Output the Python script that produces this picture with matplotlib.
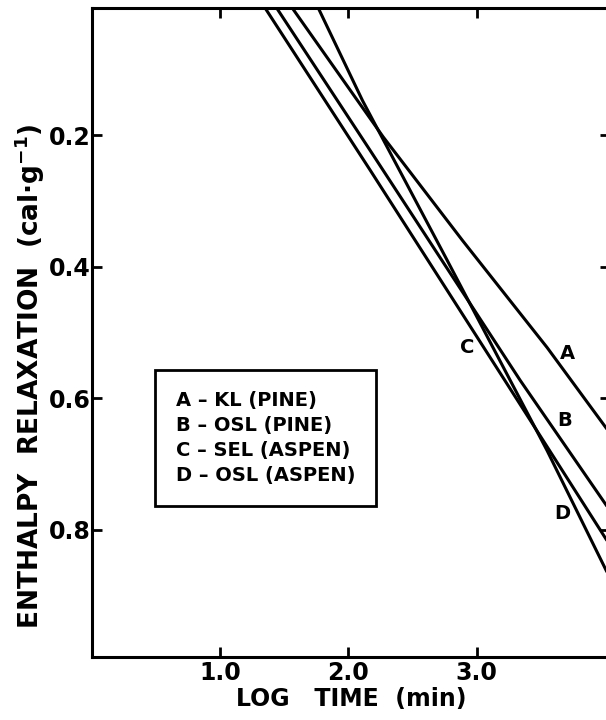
import numpy as np
import matplotlib.pyplot as plt
from matplotlib.lines import Line2D

plt.rcParams['font.family'] = ['DejaVu Sans']
plt.rcParams['font.weight'] = 'bold'

# curves: log time (min) vs enthalpy relaxation (cal/g)
a_x = [1.54, 2.27, 2.89, 3.55, 4.05]
a_y = [0.000, 0.202, 0.360, 0.523, 0.656]
b_x = [1.42, 2.17, 3.34, 4.05]
b_y = [0.000, 0.223, 0.573, 0.774]
c_x = [1.33, 2.17, 2.82, 3.22, 4.05]
c_y = [0.000, 0.253, 0.451, 0.573, 0.827]
d_x = [1.75, 2.11, 2.77, 3.55, 4.05]
d_y = [0.000, 0.147, 0.390, 0.680, 0.878]

curve_names = ['A', 'B', 'C', 'D']
name_x = [3.71, 3.69, 2.93, 3.67]
name_y = [0.532, 0.634, 0.523, 0.776]

legend_text = ['A – KL (PINE)', 'B – OSL (PINE)', 'C – SEL (ASPEN)', 'D – OSL (ASPEN)']

x_ticks = [1.0, 2.0, 3.0]
x_ticklabels = ['1.0', '2.0', '3.0']
y_ticks = [0.2, 0.4, 0.6, 0.8]
y_ticklabels = ['0.2', '0.4', '0.6', '0.8']

fig = plt.figure(figsize=(6.06, 7.2), dpi=100)
# right spine sits just past the edge of the picture, like the scan
ax = fig.add_axes([92 / 606, 1 - 657 / 720, 518 / 606, 649 / 720])

for xs, ys in [(a_x, a_y), (b_x, b_y), (c_x, c_y), (d_x, d_y)]:
    ax.plot(xs, ys, color='black', lw=2.2, solid_capstyle='butt')

for name, tx, ty in zip(curve_names, name_x, name_y):
    ax.text(tx, ty, name, fontsize=14, fontweight='bold', ha='center', va='center')

ax.set_xlim(0, 4.04)
ax.set_ylim(0.994, 0.006)

ax.set_xticks(x_ticks)
ax.set_xticklabels(x_ticklabels)
ax.set_yticks(y_ticks)
ax.set_yticklabels(y_ticklabels)
ax.tick_params(direction='in', top=True, right=True, length=7, width=2,
               labelsize=17)
ax.tick_params(axis='y', pad=1)
ax.tick_params(axis='x', pad=3)
for sp in ax.spines.values():
    sp.set_linewidth(2.2)

ax.set_xlabel('LOG   TIME  (min)', fontsize=17, fontweight='bold', labelpad=1)
fig.text(30 / 606, 1 - 376 / 720, 'ENTHALPY  RELAXATION  (cal·g$^{\\mathbf{-1}}$)',
         fontsize=19, fontweight='bold', rotation=90, ha='center', va='center')

blank = [Line2D([], [], linestyle='none') for _ in legend_text]
leg = ax.legend(blank, legend_text, loc='upper left', bbox_to_anchor=(0.122, 0.442),
                borderaxespad=0, handlelength=0, handletextpad=0, fancybox=False,
                edgecolor='black', framealpha=1, borderpad=1.05, labelspacing=0.32,
                prop={'weight': 'bold', 'size': 14})
leg.get_frame().set_linewidth(2)

fig.savefig('out.png', dpi=100)
